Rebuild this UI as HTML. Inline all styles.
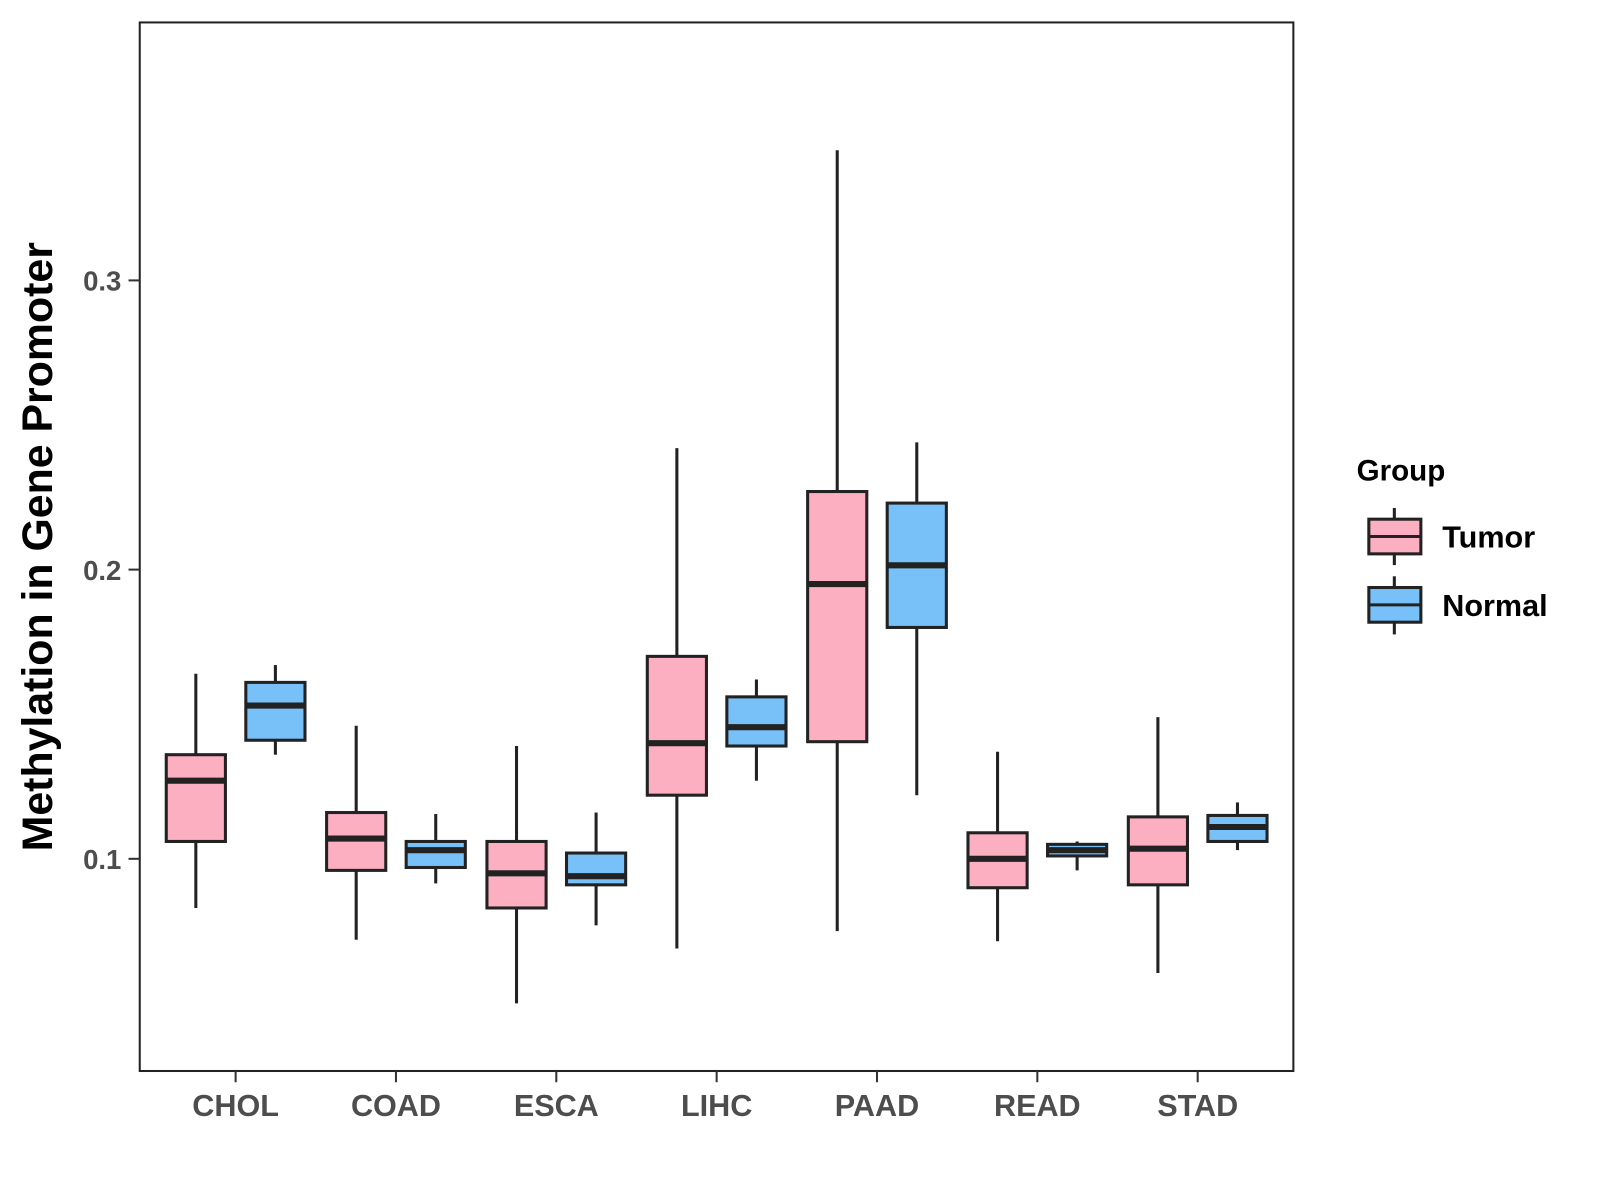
<!DOCTYPE html>
<html><head><meta charset="utf-8"><style>body{margin:0;background:#fff}svg{display:block;font-family:"Liberation Sans",Arial,sans-serif}</style></head>
<body>
<svg id="chart" width="1600" height="1200">
<g transform="scale(1.02)">
<rect x="137" y="22" width="1131" height="1028" fill="#fff" stroke="#222" stroke-width="2"/>
<g id="boxes"></g><g id="axes"></g>
<text transform="translate(51,536) rotate(-90)" text-anchor="middle" font-size="42" font-weight="bold" fill="#000">Methylation in Gene Promoter</text>
<g>
<text x="1330" y="471" font-size="29" font-weight="bold">Group</text>
<g>
<line x1="1367" y1="498" x2="1367" y2="554" stroke="#222" stroke-width="3"/>
<rect x="1342" y="509" width="51" height="34" fill="#FBAFC1" stroke="#222" stroke-width="3"/>
<line x1="1342" y1="526" x2="1393" y2="526" stroke="#222" stroke-width="3"/>
<text x="1414" y="537" font-size="30" font-weight="bold">Tumor</text></g>
<g>
<line x1="1367" y1="565" x2="1367" y2="622" stroke="#222" stroke-width="3"/>
<rect x="1342" y="576" width="51" height="34" fill="#77C1F8" stroke="#222" stroke-width="3"/>
<line x1="1342" y1="593" x2="1393" y2="593" stroke="#222" stroke-width="3"/>
<text x="1414" y="604" font-size="30" font-weight="bold">Normal</text></g>
</g>
</g>
</svg>
<script>
const categories=["CHOL","COAD","ESCA","LIHC","PAAD","READ","STAD"];
const tumorLow=[0.083,0.072,0.050,0.069,0.075,0.0715,0.0605];
const tumorQ1=[0.106,0.096,0.083,0.122,0.1405,0.090,0.091];
const tumorMed=[0.127,0.107,0.095,0.140,0.195,0.100,0.1035];
const tumorQ3=[0.136,0.116,0.106,0.170,0.227,0.109,0.1145];
const tumorHigh=[0.164,0.146,0.139,0.242,0.345,0.137,0.149];
const normalLow=[0.136,0.0915,0.077,0.127,0.122,0.096,0.103];
const normalQ1=[0.141,0.097,0.091,0.139,0.180,0.101,0.106];
const normalMed=[0.153,0.103,0.094,0.1455,0.2015,0.103,0.111];
const normalQ3=[0.161,0.106,0.102,0.156,0.223,0.105,0.115];
const normalHigh=[0.167,0.1155,0.116,0.162,0.244,0.106,0.1195];
const yTicks=[0.1,0.2,0.3];
const yTickLabels=["0.1","0.2","0.3"];
const NS="http://www.w3.org/2000/svg";
const yMin=0.02663,yMax=0.3892,panelTop=22,panelBot=1050;
function yScale(v){return panelBot-(v-yMin)/(yMax-yMin)*(panelBot-panelTop);}
function xScale(i){return 231+i*157.2;}
function mk(tag,at,parent){const e=document.createElementNS(NS,tag);for(const k in at)e.setAttribute(k,at[k]);parent.appendChild(e);return e;}
const bx=document.getElementById('boxes'),ax=document.getElementById('axes');
function drawBox(cx,lo,q1,md,q3,hi,fill,name){
 const g=mk('g',{},bx);
 
 
 mk('line',{x1:cx,x2:cx,y1:yScale(hi),y2:yScale(q3),stroke:'#222','stroke-width':3},g);
 mk('line',{x1:cx,x2:cx,y1:yScale(q1),y2:yScale(lo),stroke:'#222','stroke-width':3},g);
 mk('rect',{x:cx-29,y:yScale(q3),width:58,height:yScale(q1)-yScale(q3),fill:fill,stroke:'#222','stroke-width':3},g);
 mk('line',{x1:cx-29,x2:cx+29,y1:yScale(md),y2:yScale(md),stroke:'#222','stroke-width':6},g);
}
categories.forEach((c,i)=>{
 drawBox(xScale(i)-39,tumorLow[i],tumorQ1[i],tumorMed[i],tumorQ3[i],tumorHigh[i],'#FBAFC1','box-tumor-'+c.toLowerCase());
 drawBox(xScale(i)+39,normalLow[i],normalQ1[i],normalMed[i],normalQ3[i],normalHigh[i],'#77C1F8','box-normal-'+c.toLowerCase());
 const t=mk('line',{x1:xScale(i),x2:xScale(i),y1:1050,y2:1061,stroke:'#333','stroke-width':2},ax);
 
 
 const l=mk('text',{x:xScale(i),y:1094,'text-anchor':'middle','font-size':30,'font-weight':'bold',fill:'#4d4d4d'},ax);
 l.textContent=c;
 
 
});
yTicks.forEach((v,i)=>{
 const t=mk('line',{x1:126,x2:137,y1:yScale(v),y2:yScale(v),stroke:'#333','stroke-width':2},ax);
 
 
 const l=mk('text',{x:119,y:yScale(v)+10,'text-anchor':'end','font-size':27,'font-weight':'bold',fill:'#4d4d4d'},ax);
 l.textContent=yTickLabels[i];
 
 
});
</script>
</body></html>
